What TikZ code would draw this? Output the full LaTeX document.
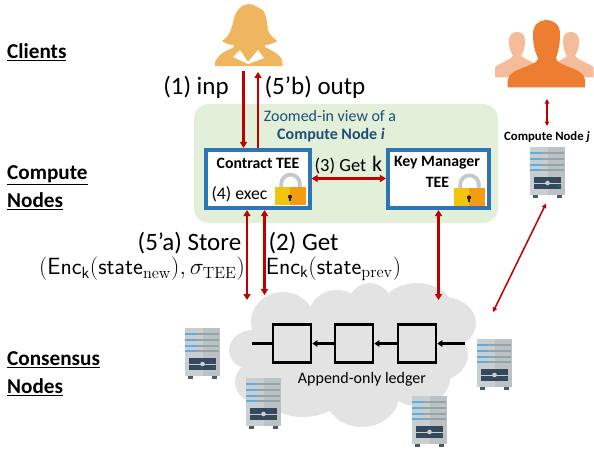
\documentclass[tikz,border=0pt]{standalone}
\usepackage[no-math]{fontspec}
\setmainfont{Carlito}
\usetikzlibrary{arrows.meta}
\definecolor{redline}{HTML}{C00000}
\definecolor{teeblue}{HTML}{2E75B6}
\definecolor{zoomgreen}{HTML}{E2EFD9}
\definecolor{cloudgray}{HTML}{E3E3E3}
\definecolor{zoomtext}{HTML}{1F4E79}
\definecolor{womanc}{HTML}{F0B55F}
\definecolor{mano}{HTML}{ED7D31}
\definecolor{manl}{HTML}{F4BC98}
\definecolor{srvfoot}{HTML}{4A5A68}
\definecolor{srvl}{HTML}{C9CED1}
\definecolor{srvr}{HTML}{BBC1C4}
\definecolor{srvblue}{HTML}{5DADE2}
\definecolor{srvbar}{HTML}{95A5A6}
\definecolor{srvdark}{HTML}{34495E}
\definecolor{lockg}{HTML}{C4C9CC}
\definecolor{locky}{HTML}{F1C40F}
\definecolor{locko}{HTML}{F39C12}
\tikzset{
  redarrow/.style={draw=redline,line width=2.4pt,-{Triangle[length=6pt,width=7pt]}},
  redboth/.style={draw=redline,line width=2.4pt,{Triangle[length=6pt,width=7pt]}-{Triangle[length=6pt,width=7pt]}},
  redthin/.style={draw=redline,line width=1.5pt,{Triangle[length=4.5pt,width=4.5pt]}-{Triangle[length=4.5pt,width=4.5pt]}},
  tee/.style={draw=teeblue,fill=white,line width=3.6pt,inner sep=0pt},
  block/.style={draw=black,line width=2.2pt,inner sep=0pt,minimum width=38.5pt,minimum height=38pt},
  chain/.style={draw=black,line width=2.2pt,-{Triangle[length=5pt,width=6.5pt]}},
  head/.style={font=\bfseries\fontsize{21.2}{24}\selectfont,anchor=west,inner sep=0pt},
  big/.style={font=\fontsize{25}{30}\selectfont,inner sep=0pt},
  mid/.style={font=\fontsize{20.74}{25}\selectfont,inner sep=0pt,scale=1.13},
  boxt/.style={font=\bfseries\fontsize{15.8}{19}\selectfont,inner sep=0pt},
}
\newcommand{\serverpic}[1]{%
\begin{scope}[shift={#1}]
  \fill[srvfoot] (2.7,47) rectangle (8.3,51);
  \fill[srvfoot] (26.7,47) rectangle (32.3,51);
  \fill[srvl] (0,0) rectangle (17.5,48);
  \fill[srvr] (17.5,0) rectangle (35,48);
  \foreach \yy in {5,10.5,16.5,22}{
    \fill[srvblue] (0,\yy) rectangle (11,\yy+2);
    \fill[srvbar] (11,\yy) rectangle (34,\yy+2);
  }
  \fill[srvdark] (3.5,29.5) rectangle (31,35.5);
  \fill[srvdark] (3.5,36.5) rectangle (31,42);
  \draw[srvl,line width=.7pt] (5,36) -- (29,36);
  \fill[srvl] (17.5,36) circle (2.3);
  \fill[red!80!black] (29,32.3) circle (.9);
  \fill[green!60!black] (29,39.3) circle (.9);
\end{scope}}
\newcommand{\lockpic}[1]{%
\begin{scope}[shift={#1}]
  \draw[draw=lockg,line width=3.8pt] (6.2,15) -- (6.2,11.6) arc[start angle=180,end angle=360,radius=9.3] -- (24.8,15);
  \fill[locky] (0,15) rectangle (15,33);
  \fill[locko] (15,15) rectangle (30.5,33);
  \fill[black!85] (15,24.5) circle (2.1);
  \fill[black!85] (14,25) rectangle (16,29);
\end{scope}}
\begin{document}
\begin{tikzpicture}[x=1pt,y=-1pt]
\useasboundingbox (0,0) rectangle (594,451);
% green panel
\fill[zoomgreen,rounded corners=15pt] (194,104) rectangle (498,223);
% cloud
\begin{scope}
  \fill[cloudgray] (253,350) ellipse [x radius=24,y radius=20];
  \fill[cloudgray] (283,322) ellipse [x radius=32,y radius=30];
  \fill[cloudgray] (337,315) ellipse [x radius=28,y radius=25];
  \fill[cloudgray] (370,308) ellipse [x radius=23,y radius=25];
  \fill[cloudgray] (417,312) ellipse [x radius=37,y radius=29];
  \fill[cloudgray] (443,323) ellipse [x radius=33,y radius=26];
  \fill[cloudgray] (433,355) ellipse [x radius=35,y radius=27];
  \fill[cloudgray] (417,378) ellipse [x radius=33,y radius=28];
  \fill[cloudgray] (362,395) ellipse [x radius=37,y radius=32];
  \fill[cloudgray] (303,388) ellipse [x radius=43,y radius=29];
  \fill[cloudgray] (263,382) ellipse [x radius=28,y radius=23];
  \fill[cloudgray] (350,355) ellipse [x radius=100,y radius=50];
\end{scope}
% woman
\fill[womanc]
  (233.5,20) .. controls (236,9) and (243,4) .. (249,4) .. controls (254,4) and (258,8) .. (263,10)
  .. controls (266,14) and (267,22) .. (268,30) .. controls (269,34) and (273,38) .. (277.5,41)
  .. controls (272,44) and (268,45) .. (265,45) -- (265,47)
  .. controls (272,51) and (279,53) .. (282,60) -- (282.7,66) -- (215,66) -- (215,62)
  .. controls (218,55) and (226,50) .. (233,48) -- (234,45)
  .. controls (229,45) and (225,43) .. (222,41) .. controls (227,38) and (231,33) .. (233.5,20) -- cycle;
\fill[white] (233,57) -- (240,50) -- (248,62) -- (258,50) -- (264,58) -- (248,64) -- cycle;
% people
\fill[manl] (495,77.3) -- (495,67) .. controls (502,62) and (510,60) .. (513,56)
  .. controls (509,50) and (509,44) .. (509,40) .. controls (509,35) and (513,32) .. (517,32)
  .. controls (522,32) and (525,35) .. (525,40) .. controls (525,46) and (524,52) .. (521,56)
  .. controls (526,60) and (535,63) .. (540,66) -- (530,77.3) -- cycle;
\fill[manl] (593.5,77.3) -- (593.5,67) .. controls (586,62) and (578,60) .. (575,56)
  .. controls (579,50) and (579,44) .. (579,40) .. controls (579,35) and (575,32) .. (571,32)
  .. controls (566,32) and (563,35) .. (563,40) .. controls (563,46) and (564,52) .. (567,56)
  .. controls (562,60) and (555,63) .. (550,66) -- (560,77.3) -- cycle;
\fill[mano] (507.7,87.3) -- (507.7,80) .. controls (509,73) and (515,71) .. (525,67)
  .. controls (533,64) and (538,62) .. (538,58) .. controls (534,50) and (533,42) .. (533,34)
  .. controls (533,24) and (540,20) .. (546.5,20) .. controls (553,20) and (560,24) .. (560,34)
  .. controls (560,42) and (559,50) .. (556,58) .. controls (556,62) and (562,64) .. (569,67)
  .. controls (579,71) and (584,73) .. (585,80) -- (585,87.3) -- cycle;
% TEE boxes
\node[tee,minimum width=103.5pt,minimum height=58.5pt] (ct) at (258,179) {};
\node[tee,minimum width=101.5pt,minimum height=58.5pt] (km) at (438.5,179) {};
\lockpic{(275,172.3)}
\lockpic{(454,173)}
% texts in panel
\node[font=\fontsize{16}{19}\selectfont,text=zoomtext,inner sep=0pt] (zt1) at (330,116) {Zoomed-in view of a};
\node[font=\bfseries\fontsize{16}{19}\selectfont,text=zoomtext,inner sep=0pt] (zt2) at (331,135) {Compute Node \textit{i}};
\node[boxt] (ctl) at (258,163) {Contract TEE};
\node[font=\fontsize{17.7}{20}\selectfont,inner sep=0pt] (ex) at (239.5,194) {(4) exec};
\node[boxt] (kml1) at (437,163) {Key Manager};
\node[boxt] (kml2) at (437.5,182) {TEE};
\node[font=\fontsize{18.5}{20}\selectfont,inner sep=0pt] (g3) at (340.5,166) {(3) Get};
\node[font=\fontsize{22}{22}\selectfont,inner sep=0pt] (kk) at (377,164) {k};
% left headings
\node[head] (h1) at (7,52) {\underline{Clients}};
\node[head] (h2a) at (7,175) {\underline{Compute}};
\node[head] (h2b) at (7,201) {\underline{Nodes}};
\node[head] (h3a) at (7,360) {\underline{Consensus}};
\node[head] (h3b) at (7,387) {\underline{Nodes}};
% labels
\node[big] (l1) at (196,87) {(1) inp};
\node[big] (l5b) at (315,87) {(5’b) outp};
\node[big] (l5a) at (189.5,243) {(5’a) Store};
\node[big] (l2) at (303.5,243) {(2) Get};
\node[mid] (m1) at (142,269) {$(\mathsf{Enc}_{\mathsf{k}}(\mathsf{state}_{\mathrm{new}}),\sigma_{\mathrm{TEE}})$};
\node[mid] (m2) at (333.5,269) {$\mathsf{Enc}_{\mathsf{k}}(\mathsf{state}_{\mathrm{prev}})$};
\node[font=\bfseries\fontsize{12.7}{15}\selectfont,inner sep=0pt] (cj) at (547,137) {Compute Node \textit{j}};
\node[font=\fontsize{16}{19}\selectfont,inner sep=0pt] (led) at (362,379) {Append-only ledger};
% blocks
\node[block] (b1) at (292,343.5) {};
\node[block] (b2) at (354,343.5) {};
\node[block] (b3) at (417,343.5) {};
\coordinate (cl) at (252,343.5);
\coordinate (cr) at (464.7,343.5);
\draw[draw=black,line width=2.2pt] (b1.west) -- (cl);
\draw[chain] (b2.west) -- (b1.east);
\draw[chain] (b3.west) -- (b2.east);
\draw[chain] (cr) -- (b3.east);
% servers
\serverpic{(530,147)}
\serverpic{(185,328)}
\serverpic{(246,378)}
\serverpic{(412,396)}
\serverpic{(477,339)}
% red connectors
\coordinate (w1) at (243.5,71);
\coordinate (w2) at (258,72);
\coordinate (d1) at (247,300);
\coordinate (d2) at (264.5,295);
\coordinate (d3) at (438.5,300);
\coordinate (j1) at (547,99);
\coordinate (j2) at (547,126);
\coordinate (s1) at (546,203.5);
\coordinate (s2) at (493,312);
\coordinate (mid3) at (0,178.5);
\draw[redarrow] (w1) -- (w1 |- ct.north);
\draw[redarrow] (w2 |- ct.north) -- (w2);
\draw[redboth] (d1 |- ct.south) -- (d1);
\draw[redboth] (d2 |- ct.south) -- (d2);
\draw[redboth] (d3 |- km.south) -- (d3);
\draw[redboth] (ct.east |- mid3) -- (km.west |- mid3);
\draw[redthin] (j1) -- (j2);
\draw[redthin] (s1) -- (s2);
\end{tikzpicture}
\end{document}
